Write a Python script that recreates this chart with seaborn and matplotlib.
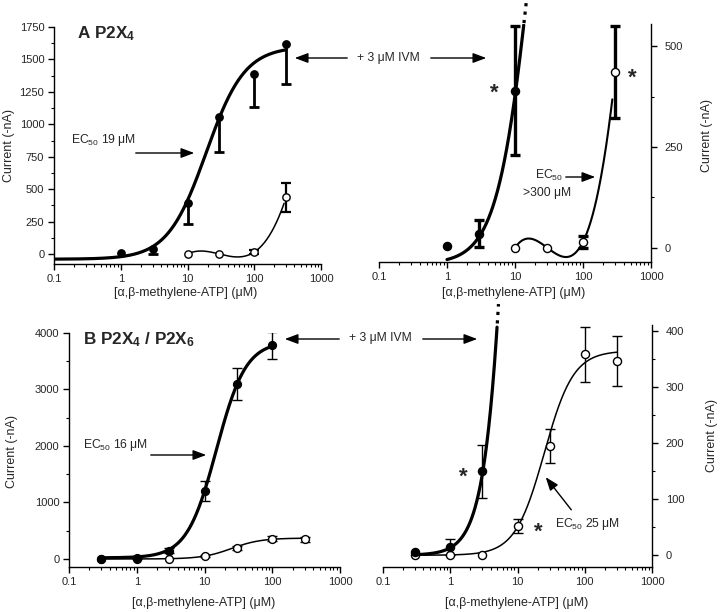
import numpy as np
import pandas as pd
import matplotlib
matplotlib.use("Agg")
import matplotlib.pyplot as plt
import seaborn as sns
from matplotlib.ticker import FixedLocator, MultipleLocator, NullFormatter
from matplotlib.patches import FancyArrowPatch

sns.set_style("ticks")
plt.rcParams["font.family"] = ["Liberation Sans", "DejaVu Sans"]
plt.rcParams["mathtext.fontset"] = "custom"
plt.rcParams["mathtext.rm"] = "Liberation Sans"
plt.rcParams["mathtext.it"] = "Liberation Sans:italic"
plt.rcParams["mathtext.bf"] = "Liberation Sans:bold"

# ---------------- data ----------------
x_ticks = [0.1, 1, 10, 100, 1000]
x_ticklabels = ["0.1", "1", "10", "100", "1000"]

# Panel A (P2X4)
conc_A_ivm = [1, 3, 10, 30, 100, 300]
cur_A_ivm = [5, 35, 390, 1060, 1390, 1620]
err_A_ivm = [0, 33, 160, 270, 260, 310]
conc_A_ctl = [10, 30, 100, 300]
cur_A_ctl = [0, 0, 15, 436]
err_A_ctl = [0, 0, 15, 115]

# Panel B (P2X4 / P2X6)
conc_B_ivm = [0.3, 1, 3, 10, 30, 100]
cur_B_ivm = [5, 15, 150, 1198, 3100, 3780]
err_B_ivm = [0, 14, 47, 175, 280, 240]
conc_B_ctl = [0.3, 1, 3, 10, 30, 100, 300]
cur_B_ctl = [0, 0, 0, 52, 195, 359, 347]
err_B_ctl = [0, 0, 0, 13, 31, 49, 44]

# fitted curve parameters (bottom, top, EC50, Hill slope)
fit_A_ivm_left = (-40, 1600, 19, 1.5)
fit_A_ivm_right = (-40, 1620, 19, 1.7)
fit_B_ivm_left = (20, 3850, 15, 2.0)
fit_B_ivm_right = (0, 3850, 13.1, 2.2)
fit_B_ctl_left = (0, 370, 25, 2.0)
fit_B_ctl_right = (0, 365, 25, 2.0)


def hill(x, p):
    b, t, ec, n = p
    return b + (t - b) / (1 + (ec / x) ** n)


# cubic through the control points of panel A (log-concentration)
coef_A_ctl = np.polyfit(np.log10(conc_A_ctl), cur_A_ctl, 3)


def spline_A(x):
    return np.polyval(coef_A_ctl, np.log10(x))


W, H = 720, 612
fig = plt.figure(figsize=(W / 100, H / 100), dpi=100)


def box(l, t, r, b):
    return [l / W, 1 - b / H, (r - l) / W, (b - t) / H]


def fx(x):
    return x / W


def fy(y):
    return 1 - y / H


FS = 8
AFS = 8.7

ax_tl = fig.add_axes(box(54, 27, 321, 264))
ax_tr = fig.add_axes(box(379, 24, 651, 262))
ax_bl = fig.add_axes(box(69, 333, 340, 567))
ax_br = fig.add_axes(box(383, 325, 652, 567))


def style(ax, ylim, major, minor, right=False):
    ax.set_xscale("log")
    ax.set_xlim(0.1, 1000)
    ax.set_ylim(*ylim)
    ax.xaxis.set_major_locator(FixedLocator(x_ticks))
    ax.set_xticklabels(x_ticklabels)
    ax.xaxis.set_minor_locator(FixedLocator(
        [m * d for d in [0.1, 1, 10, 100] for m in range(2, 10)]))
    ax.xaxis.set_minor_formatter(NullFormatter())
    ax.yaxis.set_major_locator(MultipleLocator(major))
    ax.yaxis.set_minor_locator(MultipleLocator(minor))
    ax.tick_params(axis="both", which="major", direction="out", length=4,
                   width=1, labelsize=FS, pad=3, color="black")
    ax.tick_params(axis="both", which="minor", direction="out", length=2.5,
                   width=0.8, color="black")
    for s in ax.spines.values():
        s.set_linewidth(1)
        s.set_color("black")
    ax.spines["top"].set_visible(False)
    if right:
        ax.spines["left"].set_visible(False)
        ax.yaxis.tick_right()
        ax.tick_params(axis="y", which="major", pad=6)
    else:
        ax.spines["right"].set_visible(False)
    ax.set_facecolor("white")


style(ax_tl, (-77, 1750), 250, 125)
style(ax_tr, (-35, 555), 250, 125, right=True)
style(ax_bl, (-142, 4000), 1000, 500)
style(ax_br, (-21, 411), 100, 50, right=True)


def line(ax, xs, ys, lw, ls="-", clip=True):
    sns.lineplot(x=xs, y=ys, ax=ax, color="black", lw=lw, ls=ls,
                 sort=False, estimator=None, zorder=2)
    if not clip:
        ax.lines[-1].set_clip_on(False)


def points(ax, xs, ys, filled, s=28):
    sns.scatterplot(x=xs, y=ys, ax=ax, s=s,
                    color="black" if filled else "white",
                    edgecolor="black", linewidth=1, zorder=6, legend=False)


def errs(ax, xs, ys, es, lw, cap):
    xs, ys, es = np.array(xs), np.array(ys), np.array(es)
    k = es > 0
    ax.errorbar(xs[k], ys[k], yerr=es[k], fmt="none", ecolor="black",
                elinewidth=lw, capsize=cap, capthick=lw, zorder=4)


# ---------- top-left ----------
xg = np.logspace(-1, np.log10(300), 300)
line(ax_tl, xg, hill(xg, fit_A_ivm_left), 2.3)
xs = np.logspace(1, np.log10(280), 200)
line(ax_tl, xs, spline_A(xs), 1.1)
cA = np.array(conc_A_ivm)[1:]
yA = np.array(cur_A_ivm)[1:]
low = yA - np.array(err_A_ivm)[1:]
ax_tl.vlines(cA, low, yA, color="black", lw=2, zorder=4)
ax_tl.plot(cA, low, ls="none", marker="_", ms=7, mew=2,
           color="black", zorder=4)
errs(ax_tl, conc_A_ctl, cur_A_ctl, err_A_ctl, 1.6, 3.5)
points(ax_tl, conc_A_ivm, cur_A_ivm, True)
points(ax_tl, conc_A_ctl, cur_A_ctl, False)

# ---------- top-right ----------
xg = np.logspace(0, np.log10(20), 400)
yg = hill(xg, fit_A_ivm_right)
m1 = yg <= 555
m2 = (yg >= 555) & (yg <= 615)
line(ax_tr, xg[m1], yg[m1], 2.3)
line(ax_tr, xg[m2], yg[m2], 2.3, ls=":", clip=False)
xs = np.logspace(1, np.log10(270), 200)
line(ax_tr, xs, spline_A(xs), 1.5)
errs(ax_tr, conc_A_ivm[:3], cur_A_ivm[:3], err_A_ivm[:3], 2.4, 3.5)
errs(ax_tr, conc_A_ctl, cur_A_ctl, err_A_ctl, 2.4, 3.5)
points(ax_tr, conc_A_ivm[:3], cur_A_ivm[:3], True, s=34)
points(ax_tr, conc_A_ctl, cur_A_ctl, False, s=34)

# ---------- bottom-left ----------
xg = np.logspace(np.log10(0.3), 2, 300)
line(ax_bl, xg, hill(xg, fit_B_ivm_left), 2.3)
xg = np.logspace(np.log10(0.3), np.log10(300), 300)
line(ax_bl, xg, hill(xg, fit_B_ctl_left), 1.1)
errs(ax_bl, conc_B_ivm, cur_B_ivm, err_B_ivm, 1.0, 3.5)
errs(ax_bl, conc_B_ctl, cur_B_ctl, err_B_ctl, 1.0, 3.5)
points(ax_bl, conc_B_ctl, cur_B_ctl, False, s=32)
points(ax_bl, conc_B_ivm, cur_B_ivm, True, s=32)

# ---------- bottom-right ----------
xg = np.logspace(np.log10(0.3), np.log10(8), 400)
yg = hill(xg, fit_B_ivm_right)
m1 = yg <= 411
m2 = (yg >= 411) & (yg <= 452)
line(ax_br, xg[m1], yg[m1], 2.3)
line(ax_br, xg[m2], yg[m2], 2.3, ls=":", clip=False)
xg = np.logspace(np.log10(0.3), np.log10(300), 300)
line(ax_br, xg, hill(xg, fit_B_ctl_right), 1.1)
errs(ax_br, conc_B_ivm[:3], cur_B_ivm[:3], err_B_ivm[:3], 1.0, 3.5)
errs(ax_br, conc_B_ctl, cur_B_ctl, err_B_ctl, 1.0, 3.5)
points(ax_br, conc_B_ctl, cur_B_ctl, False, s=34)
points(ax_br, conc_B_ivm[:3], cur_B_ivm[:3], True, s=34)

# ---------- text ----------
def ftext(x, y, s, **kw):
    kw.setdefault("fontsize", AFS)
    kw.setdefault("ha", "left")
    kw.setdefault("va", "center")
    fig.text(fx(x), fy(y), s, **kw)


def arrow(x0, y0, x1, y1):
    a = FancyArrowPatch((fx(x0), fy(y0)), (fx(x1), fy(y1)),
                        transform=fig.transFigure,
                        arrowstyle="-|>,head_length=0.8,head_width=0.3",
                        mutation_scale=10, color="black", lw=1)
    fig.patches.append(a)


xlabel = r"[α,β-methylene-ATP] (μM)"
LFS = 9
ftext(186, 293, xlabel, ha="center", fontsize=LFS)
ftext(514, 293, xlabel, ha="center", fontsize=LFS)
ftext(204, 603, xlabel, ha="center", fontsize=LFS)
ftext(517, 603, xlabel, ha="center", fontsize=LFS)
ftext(9, 146, "Current (-nA)", rotation=90, ha="center", fontsize=LFS)
ftext(12, 451, "Current (-nA)", rotation=90, ha="center", fontsize=LFS)
ftext(707, 135, "Current (-nA)", rotation=90, ha="center", fontsize=LFS)
ftext(712, 435, "Current (-nA)", rotation=90, ha="center", fontsize=LFS)

ftext(77, 34, r"A P2X$_\mathbf{4}$", fontsize=12.3, fontweight="bold")
ftext(83, 340, r"B P2X$_\mathbf{4}$ / P2X$_\mathbf{6}$", fontsize=12.3,
      fontweight="bold")

ftext(71, 140, r"EC$_{50}$ 19 μM")
arrow(133, 153, 197, 153)
ftext(83, 445, r"EC$_{50}$ 16 μM")
arrow(148, 455, 209, 455)
ftext(535, 175, r"EC$_{50}$")
ftext(523, 193, r">300 μM")
arrow(563, 177, 598, 177)
ftext(555, 524, r"EC$_{50}$ 25 μM")
arrow(573, 512, 544, 475)

ftext(388, 58, "+ 3 μM IVM", ha="center")
arrow(350, 58, 292, 58)
arrow(428, 58, 489, 58)
ftext(380, 338, "+ 3 μM IVM", ha="center")
arrow(342, 339, 282, 339)
arrow(420, 339, 480, 339)

ftext(494, 93, "*", fontsize=16, ha="center", fontweight="bold")
ftext(632, 78, "*", fontsize=16, ha="center", fontweight="bold")
ftext(463, 477, "*", fontsize=16, ha="center", fontweight="bold")
ftext(538, 532, "*", fontsize=16, ha="center", fontweight="bold")

fig.savefig("out.png", dpi=100, facecolor="white")
